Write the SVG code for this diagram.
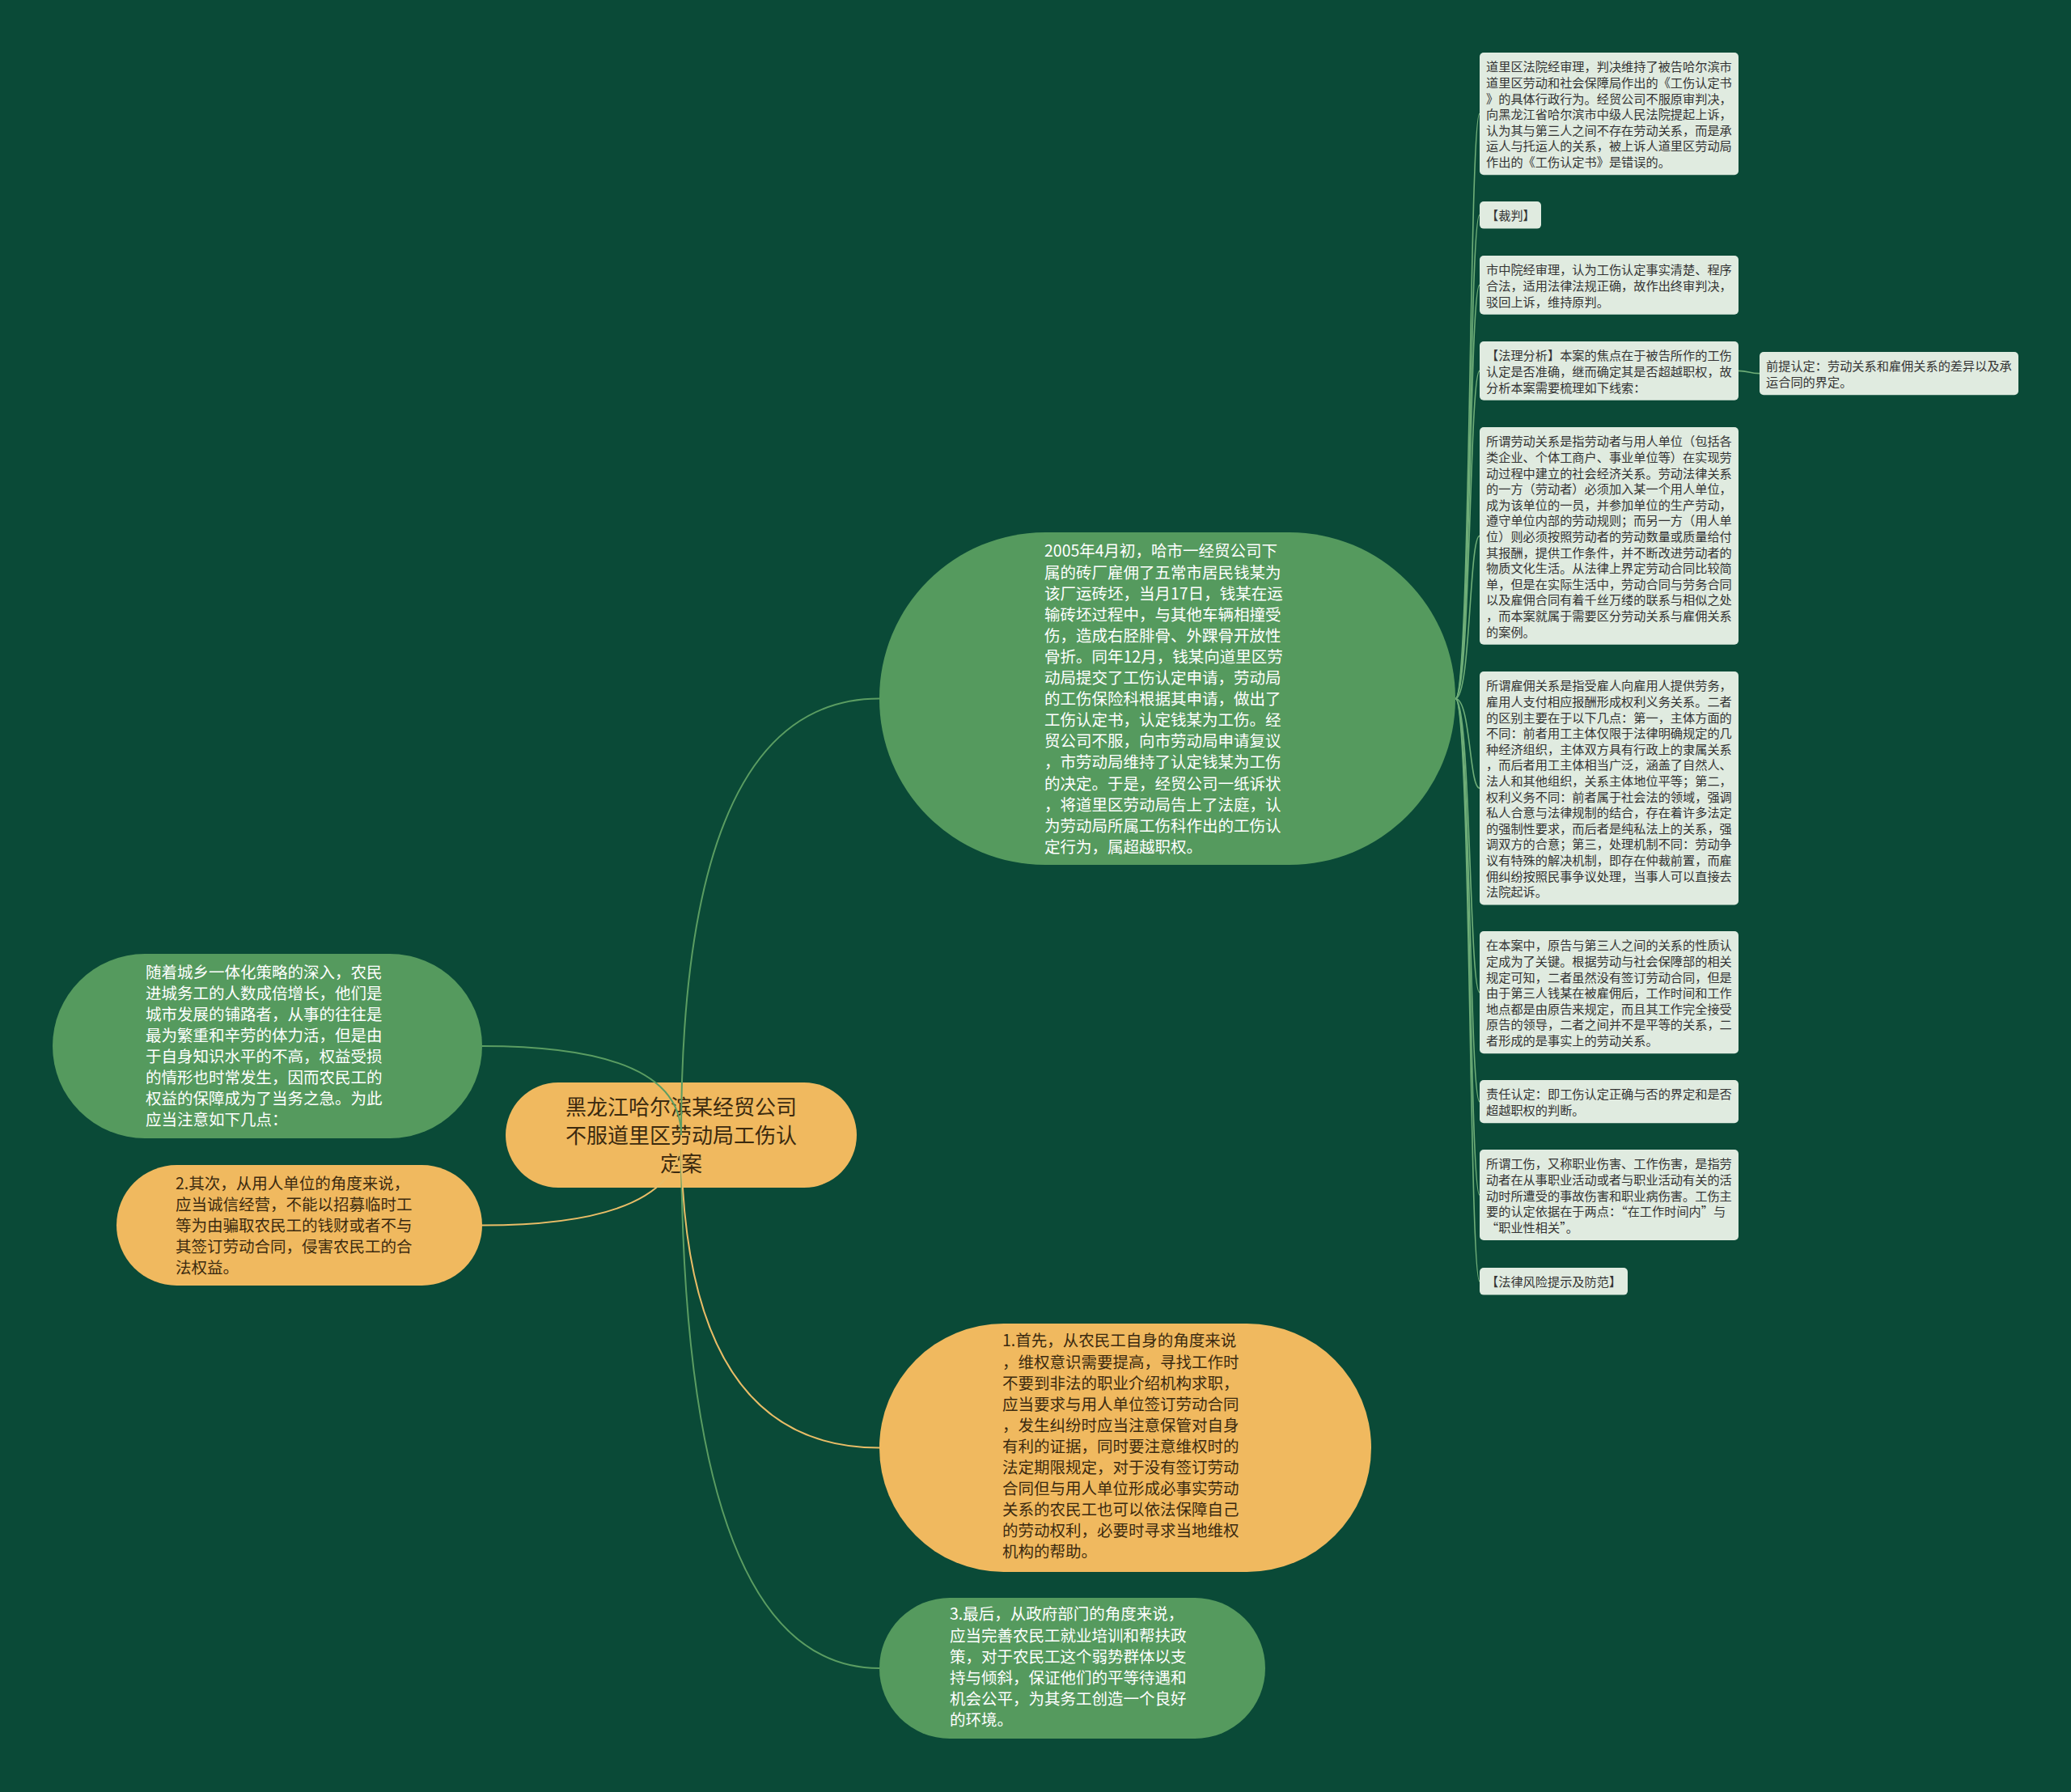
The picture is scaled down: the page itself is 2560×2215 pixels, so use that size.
<svg xmlns="http://www.w3.org/2000/svg" width="2560" height="2215" viewBox="0 0 2560 2215">
<style>
.ng{fill:#559a5e}
.ny{fill:#f0b95f}
.nb{fill:#e0ebe0}
text{font-family:"Noto Sans CJK SC","Noto Sans",sans-serif}
.tw{fill:#ffffff;font-size:19.5px}
.td{fill:#3b2a0f;font-size:19.5px}
.tr{fill:#3b2a0f;font-size:26px;text-anchor:middle}
.tb{fill:#333333;font-size:15.2px}
.cg{fill:none;stroke:#5b9d62;stroke-width:2}
.cy{fill:none;stroke:#e9bd67;stroke-width:2}
.cl{fill:none;stroke:#6fae78;stroke-width:1.6}
</style>
<rect x="0" y="0" width="2560" height="2215" fill="#0a4a37"/>

<g id="root">
<rect class="ny" x="625" y="1338" width="434" height="130" rx="65"/>
<text class="tr"><tspan x="842" y="1377.9">黑龙江哈尔滨某经贸公司</tspan><tspan x="842" dy="35">不服道里区劳动局工伤认</tspan><tspan x="842" dy="35">定案</tspan></text>
</g>

<g id="case">
<rect class="ng" x="1087" y="658" width="712" height="411" rx="205"/>
<text class="tw"><tspan x="1291" y="688.4">2005年4月初，哈市一经贸公司下</tspan><tspan x="1291" dy="26.1">属的砖厂雇佣了五常市居民钱某为</tspan><tspan x="1291" dy="26.1">该厂运砖坯，当月17日，钱某在运</tspan><tspan x="1291" dy="26.1">输砖坯过程中，与其他车辆相撞受</tspan><tspan x="1291" dy="26.1">伤，造成右胫腓骨、外踝骨开放性</tspan><tspan x="1291" dy="26.1">骨折。同年12月，钱某向道里区劳</tspan><tspan x="1291" dy="26.1">动局提交了工伤认定申请，劳动局</tspan><tspan x="1291" dy="26.1">的工伤保险科根据其申请，做出了</tspan><tspan x="1291" dy="26.1">工伤认定书，认定钱某为工伤。经</tspan><tspan x="1291" dy="26.1">贸公司不服，向市劳动局申请复议</tspan><tspan x="1291" dy="26.1">，市劳动局维持了认定钱某为工伤</tspan><tspan x="1291" dy="26.1">的决定。于是，经贸公司一纸诉状</tspan><tspan x="1291" dy="26.1">，将道里区劳动局告上了法庭，认</tspan><tspan x="1291" dy="26.1">为劳动局所属工伤科作出的工伤认</tspan><tspan x="1291" dy="26.1">定行为，属超越职权。</tspan></text>
</g>

<g id="intro">
<rect class="ng" x="65" y="1179" width="531" height="228" rx="114"/>
<text class="tw"><tspan x="180" y="1209.4">随着城乡一体化策略的深入，农民</tspan><tspan x="180" dy="26">进城务工的人数成倍增长，他们是</tspan><tspan x="180" dy="26">城市发展的铺路者，从事的往往是</tspan><tspan x="180" dy="26">最为繁重和辛劳的体力活，但是由</tspan><tspan x="180" dy="26">于自身知识水平的不高，权益受损</tspan><tspan x="180" dy="26">的情形也时常发生，因而农民工的</tspan><tspan x="180" dy="26">权益的保障成为了当务之急。为此</tspan><tspan x="180" dy="26">应当注意如下几点：</tspan></text>
</g>

<g id="second">
<rect class="ny" x="144" y="1440" width="452" height="149" rx="74.5"/>
<text class="td"><tspan x="217" y="1470.4">2.其次，从用人单位的角度来说，</tspan><tspan x="217" dy="26">应当诚信经营，不能以招募临时工</tspan><tspan x="217" dy="26">等为由骗取农民工的钱财或者不与</tspan><tspan x="217" dy="26">其签订劳动合同，侵害农民工的合</tspan><tspan x="217" dy="26">法权益。</tspan></text>
</g>

<g id="first">
<rect class="ny" x="1087" y="1636" width="608" height="307" rx="153.5"/>
<text class="td"><tspan x="1239" y="1664.4">1.首先，从农民工自身的角度来说</tspan><tspan x="1239" dy="26.1">，维权意识需要提高，寻找工作时</tspan><tspan x="1239" dy="26.1">不要到非法的职业介绍机构求职，</tspan><tspan x="1239" dy="26.1">应当要求与用人单位签订劳动合同</tspan><tspan x="1239" dy="26.1">，发生纠纷时应当注意保管对自身</tspan><tspan x="1239" dy="26.1">有利的证据，同时要注意维权时的</tspan><tspan x="1239" dy="26.1">法定期限规定，对于没有签订劳动</tspan><tspan x="1239" dy="26.1">合同但与用人单位形成必事实劳动</tspan><tspan x="1239" dy="26.1">关系的农民工也可以依法保障自己</tspan><tspan x="1239" dy="26.1">的劳动权利，必要时寻求当地维权</tspan><tspan x="1239" dy="26.1">机构的帮助。</tspan></text>
</g>

<g id="third">
<rect class="ng" x="1087" y="1975" width="477" height="174" rx="87"/>
<text class="tw"><tspan x="1174" y="2002.4">3.最后，从政府部门的角度来说，</tspan><tspan x="1174" dy="26.2">应当完善农民工就业培训和帮扶政</tspan><tspan x="1174" dy="26.2">策，对于农民工这个弱势群体以支</tspan><tspan x="1174" dy="26.2">持与倾斜，保证他们的平等待遇和</tspan><tspan x="1174" dy="26.2">机会公平，为其务工创造一个良好</tspan><tspan x="1174" dy="26.2">的环境。</tspan></text>
</g>

<g id="b1">
<rect class="nb" x="1829" y="65" width="320" height="151.2" rx="5"/>
<text class="tb"><tspan x="1837" y="88.3">道里区法院经审理，判决维持了被告哈尔滨市</tspan><tspan x="1837" dy="19.6">道里区劳动和社会保障局作出的《工伤认定书</tspan><tspan x="1837" dy="19.6">》的具体行政行为。经贸公司不服原审判决，</tspan><tspan x="1837" dy="19.6">向黑龙江省哈尔滨市中级人民法院提起上诉，</tspan><tspan x="1837" dy="19.6">认为其与第三人之间不存在劳动关系，而是承</tspan><tspan x="1837" dy="19.6">运人与托运人的关系，被上诉人道里区劳动局</tspan><tspan x="1837" dy="19.6">作出的《工伤认定书》是错误的。</tspan></text>
</g>

<g id="b2">
<rect class="nb" x="1829" y="249" width="76" height="33.6" rx="5"/>
<text class="tb"><tspan x="1837" y="272.3">【裁判】</tspan></text>
</g>

<g id="b3">
<rect class="nb" x="1829" y="316" width="320" height="72.8" rx="5"/>
<text class="tb"><tspan x="1837" y="339.3">市中院经审理，认为工伤认定事实清楚、程序</tspan><tspan x="1837" dy="19.6">合法，适用法律法规正确，故作出终审判决，</tspan><tspan x="1837" dy="19.6">驳回上诉，维持原判。</tspan></text>
</g>

<g id="b4">
<rect class="nb" x="1829" y="422" width="320" height="72.8" rx="5"/>
<text class="tb"><tspan x="1837" y="445.3">【法理分析】本案的焦点在于被告所作的工伤</tspan><tspan x="1837" dy="19.6">认定是否准确，继而确定其是否超越职权，故</tspan><tspan x="1837" dy="19.6">分析本案需要梳理如下线索：</tspan></text>
</g>

<g id="b4a">
<rect class="nb" x="2175" y="435" width="320" height="53.2" rx="5"/>
<text class="tb"><tspan x="2183" y="458.3">前提认定：劳动关系和雇佣关系的差异以及承</tspan><tspan x="2183" dy="19.6">运合同的界定。</tspan></text>
</g>

<g id="b5">
<rect class="nb" x="1829" y="528" width="320" height="268.8" rx="5"/>
<text class="tb"><tspan x="1837" y="551.3">所谓劳动关系是指劳动者与用人单位（包括各</tspan><tspan x="1837" dy="19.6">类企业、个体工商户、事业单位等）在实现劳</tspan><tspan x="1837" dy="19.6">动过程中建立的社会经济关系。劳动法律关系</tspan><tspan x="1837" dy="19.6">的一方（劳动者）必须加入某一个用人单位，</tspan><tspan x="1837" dy="19.6">成为该单位的一员，并参加单位的生产劳动，</tspan><tspan x="1837" dy="19.6">遵守单位内部的劳动规则；而另一方（用人单</tspan><tspan x="1837" dy="19.6">位）则必须按照劳动者的劳动数量或质量给付</tspan><tspan x="1837" dy="19.6">其报酬，提供工作条件，并不断改进劳动者的</tspan><tspan x="1837" dy="19.6">物质文化生活。从法律上界定劳动合同比较简</tspan><tspan x="1837" dy="19.6">单，但是在实际生活中，劳动合同与劳务合同</tspan><tspan x="1837" dy="19.6">以及雇佣合同有着千丝万缕的联系与相似之处</tspan><tspan x="1837" dy="19.6">，而本案就属于需要区分劳动关系与雇佣关系</tspan><tspan x="1837" dy="19.6">的案例。</tspan></text>
</g>

<g id="b6">
<rect class="nb" x="1829" y="830" width="320" height="288.4" rx="5"/>
<text class="tb"><tspan x="1837" y="853.3">所谓雇佣关系是指受雇人向雇用人提供劳务，</tspan><tspan x="1837" dy="19.6">雇用人支付相应报酬形成权利义务关系。二者</tspan><tspan x="1837" dy="19.6">的区别主要在于以下几点：第一，主体方面的</tspan><tspan x="1837" dy="19.6">不同：前者用工主体仅限于法律明确规定的几</tspan><tspan x="1837" dy="19.6">种经济组织，主体双方具有行政上的隶属关系</tspan><tspan x="1837" dy="19.6">，而后者用工主体相当广泛，涵盖了自然人、</tspan><tspan x="1837" dy="19.6">法人和其他组织，关系主体地位平等；第二，</tspan><tspan x="1837" dy="19.6">权利义务不同：前者属于社会法的领域，强调</tspan><tspan x="1837" dy="19.6">私人合意与法律规制的结合，存在着许多法定</tspan><tspan x="1837" dy="19.6">的强制性要求，而后者是纯私法上的关系，强</tspan><tspan x="1837" dy="19.6">调双方的合意；第三，处理机制不同：劳动争</tspan><tspan x="1837" dy="19.6">议有特殊的解决机制，即存在仲裁前置，而雇</tspan><tspan x="1837" dy="19.6">佣纠纷按照民事争议处理，当事人可以直接去</tspan><tspan x="1837" dy="19.6">法院起诉。</tspan></text>
</g>

<g id="b7">
<rect class="nb" x="1829" y="1151" width="320" height="151.2" rx="5"/>
<text class="tb"><tspan x="1837" y="1174.3">在本案中，原告与第三人之间的关系的性质认</tspan><tspan x="1837" dy="19.6">定成为了关键。根据劳动与社会保障部的相关</tspan><tspan x="1837" dy="19.6">规定可知，二者虽然没有签订劳动合同，但是</tspan><tspan x="1837" dy="19.6">由于第三人钱某在被雇佣后，工作时间和工作</tspan><tspan x="1837" dy="19.6">地点都是由原告来规定，而且其工作完全接受</tspan><tspan x="1837" dy="19.6">原告的领导，二者之间并不是平等的关系，二</tspan><tspan x="1837" dy="19.6">者形成的是事实上的劳动关系。</tspan></text>
</g>

<g id="b8">
<rect class="nb" x="1829" y="1335" width="320" height="53.2" rx="5"/>
<text class="tb"><tspan x="1837" y="1358.3">责任认定：即工伤认定正确与否的界定和是否</tspan><tspan x="1837" dy="19.6">超越职权的判断。</tspan></text>
</g>

<g id="b9">
<rect class="nb" x="1829" y="1421" width="320" height="112" rx="5"/>
<text class="tb"><tspan x="1837" y="1444.3">所谓工伤，又称职业伤害、工作伤害，是指劳</tspan><tspan x="1837" dy="19.6">动者在从事职业活动或者与职业活动有关的活</tspan><tspan x="1837" dy="19.6">动时所遭受的事故伤害和职业病伤害。工伤主</tspan><tspan x="1837" dy="19.6">要的认定依据在于两点：“在工作时间内”与</tspan><tspan x="1837" dy="19.6">“职业性相关”。</tspan></text>
</g>

<g id="b10">
<rect class="nb" x="1829" y="1567" width="183" height="33.6" rx="5"/>
<text class="tb"><tspan x="1837" y="1590.3">【法律风险提示及防范】</tspan></text>
</g>

<g id="connectors">
<path class="cg" d="M842,1403 Q842,863.5 1087,863.5"/>
<path class="cg" d="M842,1403 Q842,2062 1087,2062"/>
<path class="cy" d="M842,1403 Q842,1789.5 1087,1789.5"/>
<path class="cg" d="M842,1403 Q842,1293 596,1293"/>
<path class="cy" d="M842,1403 Q842,1514.5 596,1514.5"/>
<path class="cl" d="M1799,863.5 C1818,863.5 1816,140.6 1829,140.6"/>
<path class="cl" d="M1799,863.5 C1818,863.5 1816,265.8 1829,265.8"/>
<path class="cl" d="M1799,863.5 C1818,863.5 1816,352.4 1829,352.4"/>
<path class="cl" d="M1799,863.5 C1818,863.5 1816,458.4 1829,458.4"/>
<path class="cl" d="M1799,863.5 C1818,863.5 1816,662.4 1829,662.4"/>
<path class="cl" d="M1799,863.5 C1818,863.5 1816,974.2 1829,974.2"/>
<path class="cl" d="M1799,863.5 C1818,863.5 1816,1226.6 1829,1226.6"/>
<path class="cl" d="M1799,863.5 C1818,863.5 1816,1361.6 1829,1361.6"/>
<path class="cl" d="M1799,863.5 C1818,863.5 1816,1477 1829,1477"/>
<path class="cl" d="M1799,863.5 C1818,863.5 1816,1583.8 1829,1583.8"/>
<path class="cl" d="M2149,458.4 C2162,458.4 2162,461.6 2175,461.6"/>
</g>
</svg>
